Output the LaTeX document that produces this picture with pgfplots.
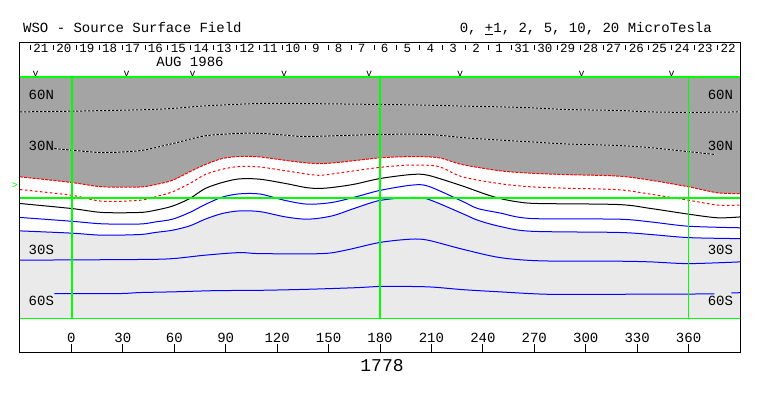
\documentclass[border=0pt]{standalone}
\usepackage{fontspec}
\setmainfont{Liberation Mono}
\usepackage{pgfplots}
\usepackage{pgfplotstable}
\pgfplotsset{compat=1.18}
\definecolor{dg}{RGB}{164,164,164}
\definecolor{lg}{RGB}{234,234,234}
\definecolor{gl}{RGB}{0,255,0}
\definecolor{bl}{RGB}{0,0,255}
\definecolor{rd}{RGB}{255,0,0}

\pgfplotstableread{
x y
-30 50.0
0 50.4
40 51.2
59 52.0
78 53.5
110 54.9
129 54.9
180 54.3
208 53.9
231 53.3
250 52.9
268 52.4
288 51.4
319 50.8
338 50.0
360 49.7
390 50.0
}\Atab
\pgfplotstableread{
x y
-10 28.7
0 27.8
18 26.4
40 27.5
59 31.6
78 36.1
98 37.5
110 37.5
125 36.5
138 35.7
180 36.9
208 36.9
228 35.1
250 33.6
268 32.6
288 31.4
319 30.5
338 29.2
360 26.9
375 25.3
}\Btab
\pgfplotstableread{
x y
-30 12.3
0 9.0
18 6.5
40 6.4
49 7.8
59 10.3
69 15.2
78 19.4
88 22.9
98 24.1
110 23.8
129 21.3
144 19.9
158 20.9
180 23.3
198 24.0
214 23.4
228 19.4
250 15.8
268 14.4
288 13.6
319 12.7
338 10.3
360 6.5
377 3.0
390 2.6
}\Ctab
\pgfplotstableread{
x y
-30 4.9
0 1.6
18 -1.9
40 -1.3
49 0.7
59 3.6
69 8.4
78 13.6
88 16.7
98 18.3
110 18.0
129 15.2
144 13.2
158 14.8
180 17.8
198 19.1
214 18.3
228 12.3
250 8.3
268 6.5
288 5.7
319 4.8
338 2.2
360 -1.3
377 -4.1
390 -4.1
}\Dtab
\pgfplotstableread{
x y
-30 -3.2
0 -6.1
18 -8.4
40 -8.4
49 -7.1
59 -4.7
69 -0.3
78 5.5
88 9.0
98 11.1
110 10.9
125 8.4
138 5.9
148 5.7
164 7.8
180 11.3
198 13.6
208 13.2
228 7.0
241 2.4
250 -0.3
260 -2.2
272 -3.2
319 -3.8
338 -6.1
360 -9.4
377 -11.5
390 -11.0
}\Etab
\pgfplotstableread{
x y
-30 -11.3
0 -13.5
18 -15.0
40 -15.1
49 -13.9
59 -12.3
69 -8.4
78 -3.8
88 0.5
98 2.4
110 2.3
125 -1.5
138 -3.6
152 -2.6
166 0.7
180 4.4
198 7.4
208 6.9
228 -1.9
237 -6.1
250 -8.7
268 -11.9
319 -12.3
338 -13.9
360 -16.4
390 -17.3
}\Ftab
\pgfplotstableread{
x y
-30 -19.1
0 -20.4
18 -21.6
40 -21.2
49 -20.0
59 -18.7
69 -16.2
78 -12.3
88 -9.0
98 -7.5
110 -7.9
125 -11.0
138 -12.3
152 -10.4
166 -5.7
180 -1.4
198 0.3
208 -0.7
228 -9.0
237 -12.9
250 -16.5
268 -19.3
319 -20.0
338 -21.2
360 -23.0
390 -23.6
}\Gtab
\pgfplotstableread{
x y
-30 -36.1
40 -35.7
59 -35.2
78 -33.2
98 -31.7
110 -32.3
146 -32.3
160 -30.3
180 -25.8
198 -23.9
208 -24.5
228 -29.7
250 -34.6
274 -36.5
319 -36.7
338 -37.1
360 -38.1
390 -37.1
}\Htab
\pgfplotstableread{
x y
-10 -55.5
27 -55.5
40 -54.9
59 -54.5
84 -53.8
110 -53.6
138 -53.0
168 -52.0
180 -51.3
208 -51.6
228 -53.2
250 -54.5
278 -55.9
319 -55.9
375 -55.7
}\Itab
\pgfplotstableread{
x y
385 -55.1
390 -55.0
}\Ibtab

\begin{document}
\begin{tikzpicture}[font=\fontsize{14}{14}\selectfont]
\begin{axis}[
  scale only axis, width=720pt, height=310pt,
  xmin=-30, xmax=390, ymin=-90, ymax=90,
  axis line style={line width=1pt},
  axis on top,
  xtick={0,30,...,360}, xtick pos=bottom, xtick align=inside,
  major tick length=9pt,
  major tick style={line width=1pt, black},
  xticklabel style={anchor=south, yshift=9pt, inner sep=1pt, font=\fontsize{14}{14}\selectfont},
  /pgf/number format/assume math mode=true,
  ytick=\empty, minor ytick={-80,-70,...,80}, minor tick length=6pt, ytick align=inside,
  minor tick style={line width=1pt, black},
  clip=false,
]
% shaded regions: light grey (negative), white band, dark grey (positive)
\fill[lg] (axis cs:-30,-70) rectangle (axis cs:390,70);
\addplot[fill=white, draw=none, smooth] table {\Gtab} -- (axis cs:390,70) -- (axis cs:-30,70) -- cycle;
\addplot[fill=dg, draw=none, smooth] table {\Ctab} -- (axis cs:390,70) -- (axis cs:-30,70) -- cycle;

% positive contours
\addplot[white, line width=1pt, smooth] table {\Atab};
\addplot[black, line width=1pt, smooth, dash pattern=on 2.5pt off 1.5pt] table {\Atab};
\addplot[white, line width=1pt, smooth] table {\Btab};
\addplot[black, line width=1pt, smooth, dash pattern=on 2.5pt off 1.5pt] table {\Btab};
\addplot[rd, line width=1pt, smooth, dash pattern=on 3pt off 1.2pt] table {\Ctab};
\addplot[rd, line width=1pt, smooth, dash pattern=on 2.5pt off 2.5pt] table {\Dtab};
% neutral line
\addplot[black, line width=1pt, smooth] table {\Etab};
% negative contours
\addplot[bl, line width=1pt, smooth] table {\Ftab};
\addplot[bl, line width=1pt, smooth] table {\Gtab};
\addplot[bl, line width=1pt, smooth] table {\Htab};
\addplot[bl, line width=1pt, smooth] table {\Itab};
\addplot[bl, line width=1pt] table {\Ibtab};

% green reference lines
\draw[gl, line width=1.6pt] (axis cs:-30,70.1) -- (axis cs:390,70.1);
\draw[gl, line width=1.2pt] (axis cs:-30,-70) -- (axis cs:390,-70);
\draw[gl, line width=1.2pt] (axis cs:-30,0) -- (axis cs:390,0);
\draw[gl, line width=1.6pt] (axis cs:0.2,-70) -- (axis cs:0.2,70);
\draw[gl, line width=1.2pt] (axis cs:180,-70) -- (axis cs:180,70);
\draw[gl, line width=1.2pt] (axis cs:360,-70) -- (axis cs:360,70);

% latitude labels
\node[anchor=west, inner sep=1pt] at (axis cs:-25.6,60) {60N};
\node[anchor=west, inner sep=1pt] at (axis cs:-25.6,30) {30N};
\node[anchor=west, inner sep=1pt] at (axis cs:-25.6,-30) {30S};
\node[anchor=west, inner sep=1pt] at (axis cs:-25.6,-60) {60S};
\node[anchor=east, inner sep=1pt] at (axis cs:386.6,60) {60N};
\node[anchor=east, inner sep=1pt] at (axis cs:386.6,30) {30N};
\node[anchor=east, inner sep=1pt] at (axis cs:386.6,-30) {30S};
\node[anchor=east, inner sep=1pt] at (axis cs:386.6,-60) {60S};
\end{axis}

\begin{scope}[shift={(current axis.south west)}, x=1pt, y=1pt]
\node[anchor=base west, inner sep=0pt] at (3,320) {WSO - Source Surface Field};
\node[anchor=base east, inner sep=0pt] at (692,320) {0, \underline{+}1, 2, 5, 10, 20 MicroTesla};
\foreach \d [count=\k from 0] in {21,20,19,18,17,16,15,14,13,12,11,10,9,8,7,6,5,4,3,2,1,31,30,29,28,27,26,25,24,23,22}
  \node[inner sep=0pt, font=\fontsize{12.5}{12.5}\selectfont] at ({21+22.9*\k},305) {\d};
\foreach \k in {0,...,31}
  \draw[line width=1pt] ({10.5+22.9*\k},307.5) -- ++(0,-4.5);
\node[inner sep=0pt] at (170,291) {AUG 1986};
\foreach \p in {35.7,126.7,192.7,284,369,460,581.7,671.7}
  \node[inner sep=0pt, font=\fontsize{10}{10}\selectfont] at ({\p-20},279) {v};
\node[inner sep=0pt, text=gl, font=\fontsize{10}{10}\selectfont] at (-5,167) {>};
\node[anchor=base, inner sep=0pt, font=\fontsize{18}{18}\selectfont] at (362,-19) {1778};
\path (-20,-43) rectangle (743,353);
\end{scope}
\end{tikzpicture}
\end{document}
